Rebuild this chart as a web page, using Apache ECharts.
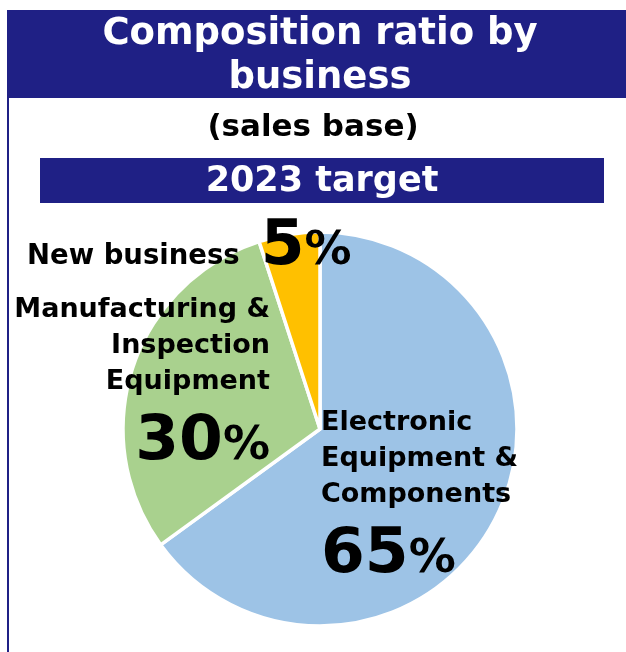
<!DOCTYPE html>
<html>
<head>
<meta charset="utf-8">
<script src="https://cdn.jsdelivr.net/npm/echarts@6/dist/echarts.min.js"></script>
<style>
  html, body { margin: 0; padding: 0; background: #ffffff; }
  #chart { width: 626px; height: 652px; }
</style>
</head>
<body>
<div id="chart"></div>
<script>
// Headings
const titleLines = ['Composition ratio by', 'business'];
const subtitle = '(sales base)';
const periodLabel = '2023 target';

// Business segments and their share of sales (%)
const segmentNames = ['Electronic\nEquipment &\nComponents', 'Manufacturing &\nInspection\nEquipment', 'New business'];
const segmentShares = [65, 30, 5];
const segmentColors = ['#9dc3e6', '#a9d18e', '#ffc000'];

const NAVY = '#1f2085';
const FONT = '"DejaVu Sans", Verdana, sans-serif';

// Where each segment's label block sits
const labelSpots = [
  { x: 321, y: 405, align: 'left' },
  { x: 270, y: 292, align: 'right' },
  { x: 27, y: 223, align: 'left' }
];

const rich = {
  name: { fontFamily: FONT, fontWeight: 'bold', fontSize: 27, lineHeight: 36, color: '#000' },
  nameInline: { fontFamily: FONT, fontWeight: 'bold', fontSize: 27.5, lineHeight: 56, color: '#000', verticalAlign: 'bottom', padding: [0, 0, 8, 0] },
  gap: { width: 21, lineHeight: 56 },
  num: { fontFamily: FONT, fontWeight: 'bold', fontSize: 63, lineHeight: 74, color: '#000', verticalAlign: 'bottom' },
  numInline: { fontFamily: FONT, fontWeight: 'bold', fontSize: 63, lineHeight: 56, color: '#000', verticalAlign: 'bottom' },
  pct: { fontFamily: FONT, fontWeight: 'bold', fontSize: 47, lineHeight: 74, color: '#000', verticalAlign: 'bottom', padding: [0, 0, 4, 0] },
  pctInline: { fontFamily: FONT, fontWeight: 'bold', fontSize: 47, lineHeight: 56, color: '#000', verticalAlign: 'bottom', padding: [0, 0, 4, 0] }
};

function labelText(i) {
  const v = segmentShares[i];
  if (i === 2) {
    return '{nameInline|' + segmentNames[i] + '}{gap|}{numInline|' + v + '}{pctInline|%}';
  }
  return segmentNames[i].split('\n').map(s => '{name|' + s + '}').join('\n') +
    '\n{num|' + v + '}{pct|%}';
}

const pieData = segmentShares.map((v, i) => ({
  name: segmentNames[i].replace(/\n/g, ' '),
  value: v,
  itemStyle: { color: segmentColors[i] },
  label: { formatter: labelText(i) }
}));

const chart = echarts.init(document.getElementById('chart'), null, { renderer: 'canvas' });

chart.setOption({
  backgroundColor: '#ffffff',
  animation: false,
  graphic: [
    // header banner
    { type: 'rect', shape: { x: 7, y: 10, width: 619, height: 88 }, style: { fill: NAVY } },
    // left rule running down the page
    { type: 'rect', shape: { x: 7, y: 98, width: 2, height: 554 }, style: { fill: NAVY } },
    { type: 'text', x: 320, y: 34, style: { text: titleLines[0], fill: '#fff', font: 'bold 37px ' + FONT, textAlign: 'center', textVerticalAlign: 'middle' } },
    { type: 'text', x: 320, y: 78, style: { text: titleLines[1], fill: '#fff', font: 'bold 37px ' + FONT, textAlign: 'center', textVerticalAlign: 'middle' } },
    { type: 'text', x: 313, y: 128, style: { text: subtitle, fill: '#000', font: 'bold 31px ' + FONT, textAlign: 'center', textVerticalAlign: 'middle' } },
    // period banner
    { type: 'rect', shape: { x: 40, y: 158, width: 564, height: 45 }, style: { fill: NAVY } },
    { type: 'text', x: 322, y: 182, style: { text: periodLabel, fill: '#fff', font: 'bold 35px ' + FONT, textAlign: 'center', textVerticalAlign: 'middle' } }
  ],
  series: [{
    type: 'pie',
    center: [320, 429],
    radius: 197,
    startAngle: 90,
    clockwise: true,
    silent: true,
    itemStyle: { borderColor: '#ffffff', borderWidth: 3.5 },
    label: { show: true, position: 'inside', rich: rich },
    labelLine: { show: false },
    labelLayout: function (params) {
      const s = labelSpots[params.dataIndex];
      return { x: s.x, y: s.y, align: s.align, verticalAlign: 'top', moveOverlap: false, hideOverlap: false };
    },
    data: pieData
  }]
});
</script>
</body>
</html>
